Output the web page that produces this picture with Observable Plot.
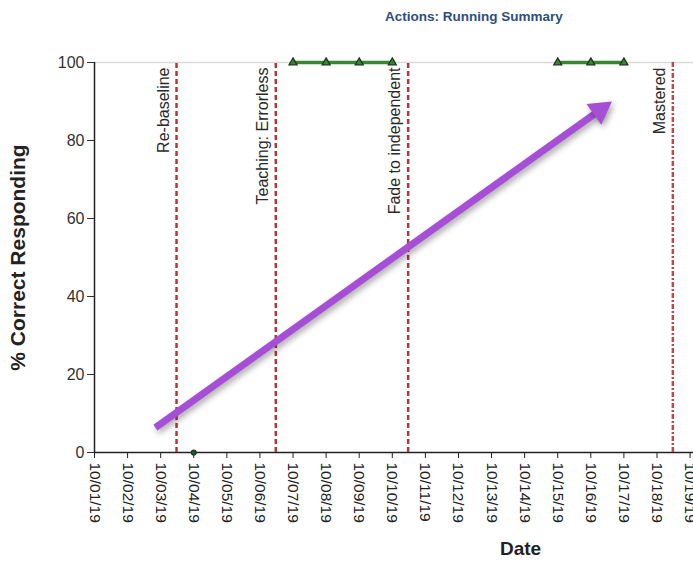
<!DOCTYPE html>
<html>
<head>
<meta charset="utf-8">
<script src="https://cdn.jsdelivr.net/npm/d3@7"></script>
<script src="https://cdn.jsdelivr.net/npm/@observablehq/plot@0.6"></script>
<style>
  html, body { margin: 0; padding: 0; background: #fff; overflow: hidden; width: 693px; height: 562px; }
  #wrap { position: relative; width: 693px; height: 562px; overflow: hidden; background: #fff; }
  #title { position: absolute; left: 385px; top: 9px; font-family: "Liberation Sans", Arial, sans-serif; font-weight: bold; font-size: 13.5px; color: #2d4f80; white-space: nowrap; }
  #chart { position: absolute; left: 0; top: 36px; }
  #chart svg { max-width: none !important; font-family: "Liberation Sans", Arial, sans-serif; }
</style>
</head>
<body>
<div id="wrap">
  <div id="title">Actions: Running Summary</div>
  <div id="chart"></div>
</div>
<script>
// ---- data ----
const tickDates = ["2019-10-01","2019-10-02","2019-10-03","2019-10-04","2019-10-05","2019-10-06","2019-10-07","2019-10-08","2019-10-09","2019-10-10","2019-10-11","2019-10-12","2019-10-13","2019-10-14","2019-10-15","2019-10-16","2019-10-17","2019-10-18","2019-10-19"];
const sessionDates = ["2019-10-04","2019-10-07","2019-10-08","2019-10-09","2019-10-10","2019-10-15","2019-10-16","2019-10-17"];
const sessionValues = [0, 100, 100, 100, 100, 100, 100, 100];
const sessionPhases = ["Re-baseline","Teaching: Errorless","Teaching: Errorless","Teaching: Errorless","Teaching: Errorless","Fade to independent","Fade to independent","Fade to independent"];
const phaseDates = ["2019-10-03T11:30Z","2019-10-06T11:30Z","2019-10-10T11:30Z","2019-10-18T11:30Z"];
const phaseLabels = ["Re-baseline","Teaching: Errorless","Fade to independent","Mastered"];
const arrowDates = ["2019-10-02T20:10Z","2019-10-16T15:20Z"];
const arrowValues = [6.4, 90];
const yTicks = [0, 20, 40, 60, 80, 100];
const yLabel = "% Correct Responding";
const xLabel = "Date";

// ---- build tables ----
const ticks = tickDates.map(d => new Date(d));
const sessions = sessionDates.map((d, i) => ({date: new Date(d), value: sessionValues[i], phase: sessionPhases[i]}));
const phases = phaseDates.map((d, i) => ({date: new Date(d), label: phaseLabels[i]}));
const a0 = {date: new Date(arrowDates[0]), value: arrowValues[0]};
const a1 = {date: new Date(arrowDates[1]), value: arrowValues[1]};
const f = 0.0264; // head centroid offset along the arrow
const aHead = {date: new Date(+a1.date + (+a0.date - +a1.date) * f), value: a1.value + (a0.value - a1.value) * f};

const purple = "#a64fd6";
const red = "#b23838";

const chart = Plot.plot({
  width: 946,
  height: 526,
  marginLeft: 94,
  marginRight: 0,
  marginTop: 26,
  marginBottom: 110,
  style: {maxWidth: "none", background: "transparent", overflow: "hidden"},
  x: {type: "utc", domain: [ticks[0], new Date("2019-10-26T18:00Z")]},
  y: {domain: [0, 100]},
  symbol: {domain: ["Re-baseline","Teaching: Errorless","Fade to independent"], range: ["circle","triangle","triangle"]},
  marks: [
    Plot.ruleY([100], {stroke: "#d9d9d9", strokeWidth: 1.5}),
    Plot.axisY({ticks: yTicks, tickSize: 7, tickPadding: 3, fontSize: 16, label: null, color: "#333", tickFormat: d => String(d)}),
    Plot.axisX({ticks: ticks, tickSize: 6, tickPadding: 4, tickRotate: 90, fontSize: 15.5, label: null, color: "#222", tickFormat: d3.utcFormat("%m/%d/%y")}),
    Plot.ruleY([0], {stroke: "#222", strokeWidth: 1.5}),
    Plot.ruleX([ticks[0]], {y1: 0, y2: 100, stroke: "#222", strokeWidth: 1.5}),
    Plot.ruleX(phases, {filter: (d, i) => i < 3, x: "date", y1: 0, y2: 100, stroke: red, strokeWidth: 2.5, strokeDasharray: "5,3"}),
    Plot.ruleX(phases, {filter: (d, i) => i === 3, x: "date", y1: 0, y2: 100, stroke: "#c24848", strokeWidth: 2.5, strokeDasharray: "5,2,2,2"}),
    Plot.text(phases, {x: "date", y: 100, text: "label", rotate: -90, textAnchor: "end", lineAnchor: "middle", dx: -13, dy: 5, fontSize: 16, fill: "#2a2a2a"}),
    Plot.line(sessions, {x: "date", y: "value", z: "phase", stroke: "#3a8533", strokeWidth: 3.5}),
    Plot.dot(sessions, {x: "date", y: "value", symbol: "phase", r: d => d.value > 0 ? 4.6 : 3.2, fill: d => d.value > 0 ? "#3a8533" : "#1f5a2a", stroke: "#1a331a", strokeWidth: 1.2}),
    Plot.text([yLabel], {frameAnchor: "left", rotate: -90, textAnchor: "middle", lineAnchor: "middle", dx: -76, fontSize: 21, fontWeight: "bold", fill: "#222"}),
    Plot.text([xLabel], {frameAnchor: "bottom", lineAnchor: "middle", dy: 96, fontSize: 19, fontWeight: "bold", fill: "#222"}),
    Plot.link([0], {x1: () => a0.date, y1: () => a0.value, x2: () => aHead.date, y2: () => aHead.value, stroke: purple, strokeWidth: 7}),
    Plot.dot([0], {x: () => aHead.date, y: () => aHead.value, symbol: "triangle", r: 9.5, rotate: 54.6, fill: purple, stroke: "none"})
  ]
});
document.getElementById("chart").appendChild(chart);
// soft shadow on the annotation arrow
const linkG = chart.querySelector('g[aria-label="link"]');
if (linkG) linkG.style.filter = "drop-shadow(2px 3px 3px rgba(0,0,0,0.35))";
const dotGs = chart.querySelectorAll('g[aria-label="dot"]');
if (dotGs.length) dotGs[dotGs.length - 1].style.filter = "drop-shadow(2px 3px 3px rgba(0,0,0,0.35))";
</script>
</body>
</html>
